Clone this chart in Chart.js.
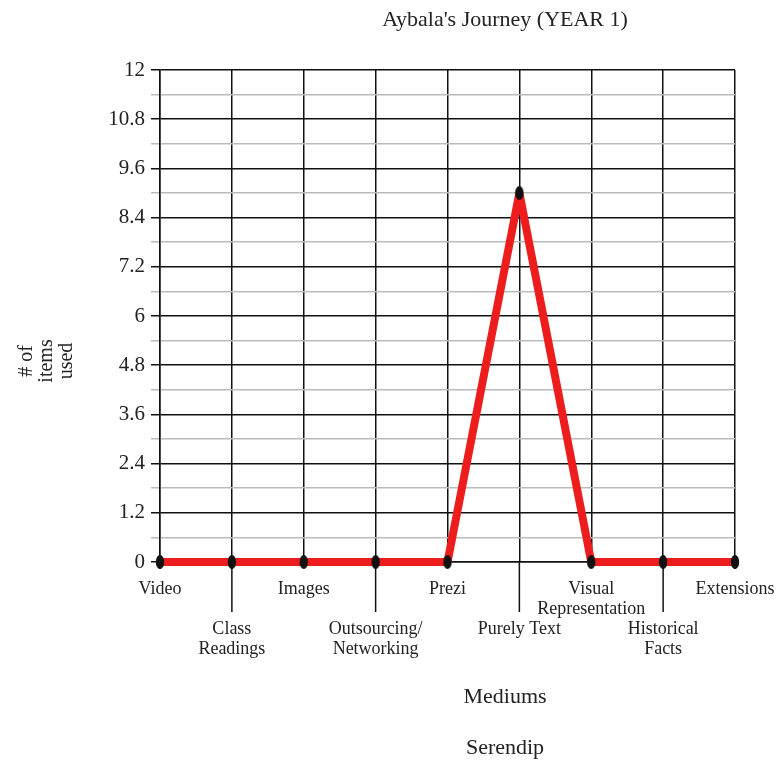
<!DOCTYPE html>
<html>
<head>
<meta charset="utf-8">
<script src="https://cdn.jsdelivr.net/npm/chart.js@4"></script>
<style>
  html, body { margin: 0; padding: 0; background: #fff; }
  #wrap { width: 777px; height: 764px; position: relative; }
</style>
</head>
<body>
<div id="wrap"><canvas id="journeyChart" width="777" height="764"></canvas></div>
<script>
// datos del gráfico
const mediums = [
  ['Video'],
  ['', '', 'Class', 'Readings'],
  ['Images'],
  ['', '', 'Outsourcing/', 'Networking'],
  ['Prezi'],
  ['', '', 'Purely Text'],
  ['Visual', 'Representation'],
  ['', '', 'Historical', 'Facts'],
  ['Extensions']
];
const itemsUsed = [0, 0, 0, 0, 0, 9, 0, 0, 0];
const yTickLabels = ['0', '1.2', '2.4', '3.6', '4.8', '6', '7.2', '8.4', '9.6', '10.8', '12'];

const serif = "'Liberation Serif', 'DejaVu Serif', serif";

// ticks mayores (con etiqueta) y menores (línea gris a mitad de camino)
function buildYTicks() {
  const out = [];
  yTickLabels.forEach((lbl, i) => {
    const v = parseFloat(lbl);
    out.push({ value: v, major: true, label: lbl });
    if (i < yTickLabels.length - 1) {
      const next = parseFloat(yTickLabels[i + 1]);
      out.push({ value: (v + next) / 2, major: false, label: '' });
    }
  });
  return out;
}

// marcador ovalado negro (parecido a un "0")
function ovalMarker() {
  const c = document.createElement('canvas');
  c.width = 10; c.height = 16;
  const g = c.getContext('2d');
  g.fillStyle = '#111';
  g.beginPath();
  g.ellipse(5, 8, 4.2, 7, 0, 0, Math.PI * 2);
  g.fill();
  return c;
}

// textos sueltos y prolongaciones de las líneas verticales
const extrasPlugin = {
  id: 'extras',
  afterDraw(chart) {
    const ctx = chart.ctx;
    const x = chart.scales.x;
    const area = chart.chartArea;
    ctx.save();
    ctx.strokeStyle = '#111';
    ctx.lineWidth = 1.5;
    x.ticks.forEach((t, i) => {
      const px = x.getPixelForTick(i);
      let len = 0;
      if (i % 2 === 1) len = 50;
      else if (i === 0 || i === x.ticks.length - 1) len = 7;
      if (len) {
        ctx.beginPath();
        ctx.moveTo(px, area.bottom);
        ctx.lineTo(px, area.bottom + len);
        ctx.stroke();
      }
    });
    ctx.fillStyle = '#222';
    ctx.textAlign = 'center';
    ctx.textBaseline = 'middle';
    ctx.font = '22px ' + serif;
    ctx.fillText("Aybala's Journey (YEAR 1)", 505, 20);
    ctx.fillText('Mediums', 505, 697);
    ctx.fillText('Serendip', 505, 748);
    // título del eje Y en tres líneas
    ctx.font = '20px ' + serif;
    ctx.translate(47, 361);
    ctx.rotate(-Math.PI / 2);
    ctx.fillText('# of', 0, -20);
    ctx.fillText('items', 0, 0);
    ctx.fillText('used', 0, 20);
    ctx.restore();
  }
};

const isMajor = c => c.tick && c.tick.major;

new Chart(document.getElementById('journeyChart'), {
  type: 'line',
  data: {
    labels: mediums,
    datasets: [{
      data: itemsUsed,
      borderColor: '#ee1d1d',
      borderWidth: 8,
      borderJoinStyle: 'round',
      tension: 0,
      pointStyle: ovalMarker(),
      pointRadius: 5,
      clip: false
    }]
  },
  options: {
    responsive: false,
    animation: false,
    layout: { padding: { left: 0, right: 42, top: 70, bottom: 0 } },
    plugins: {
      legend: { display: false },
      tooltip: { enabled: false }
    },
    scales: {
      x: {
        offset: false,
        afterFit: s => { s.height = 202; s.paddingLeft = 0; s.paddingRight = 0; },
        grid: {
          color: '#111',
          lineWidth: 1.5,
          drawTicks: false
        },
        border: { color: '#111', width: 1.5 },
        ticks: {
          color: '#222',
          padding: 17,
          maxRotation: 0,
          autoSkip: false,
          font: { family: serif, size: 18, lineHeight: 1.12 }
        }
      },
      y: {
        min: 0,
        max: 12,
        afterFit: s => { s.width = 160; },
        afterBuildTicks: s => { s.ticks = buildYTicks(); },
        grid: {
          color: c => (isMajor(c) ? '#111' : '#bbb'),
          tickColor: c => (isMajor(c) ? '#111' : '#bbb'),
          lineWidth: 1.5,
          tickLength: 9
        },
        border: { color: '#111', width: 1.5 },
        ticks: {
          autoSkip: false,
          color: '#222',
          padding: 6,
          font: { family: serif, size: 21 },
          callback: function (v, i, ticks) { return ticks[i].label; }
        }
      }
    }
  },
  plugins: [extrasPlugin]
});
</script>
</body>
</html>
